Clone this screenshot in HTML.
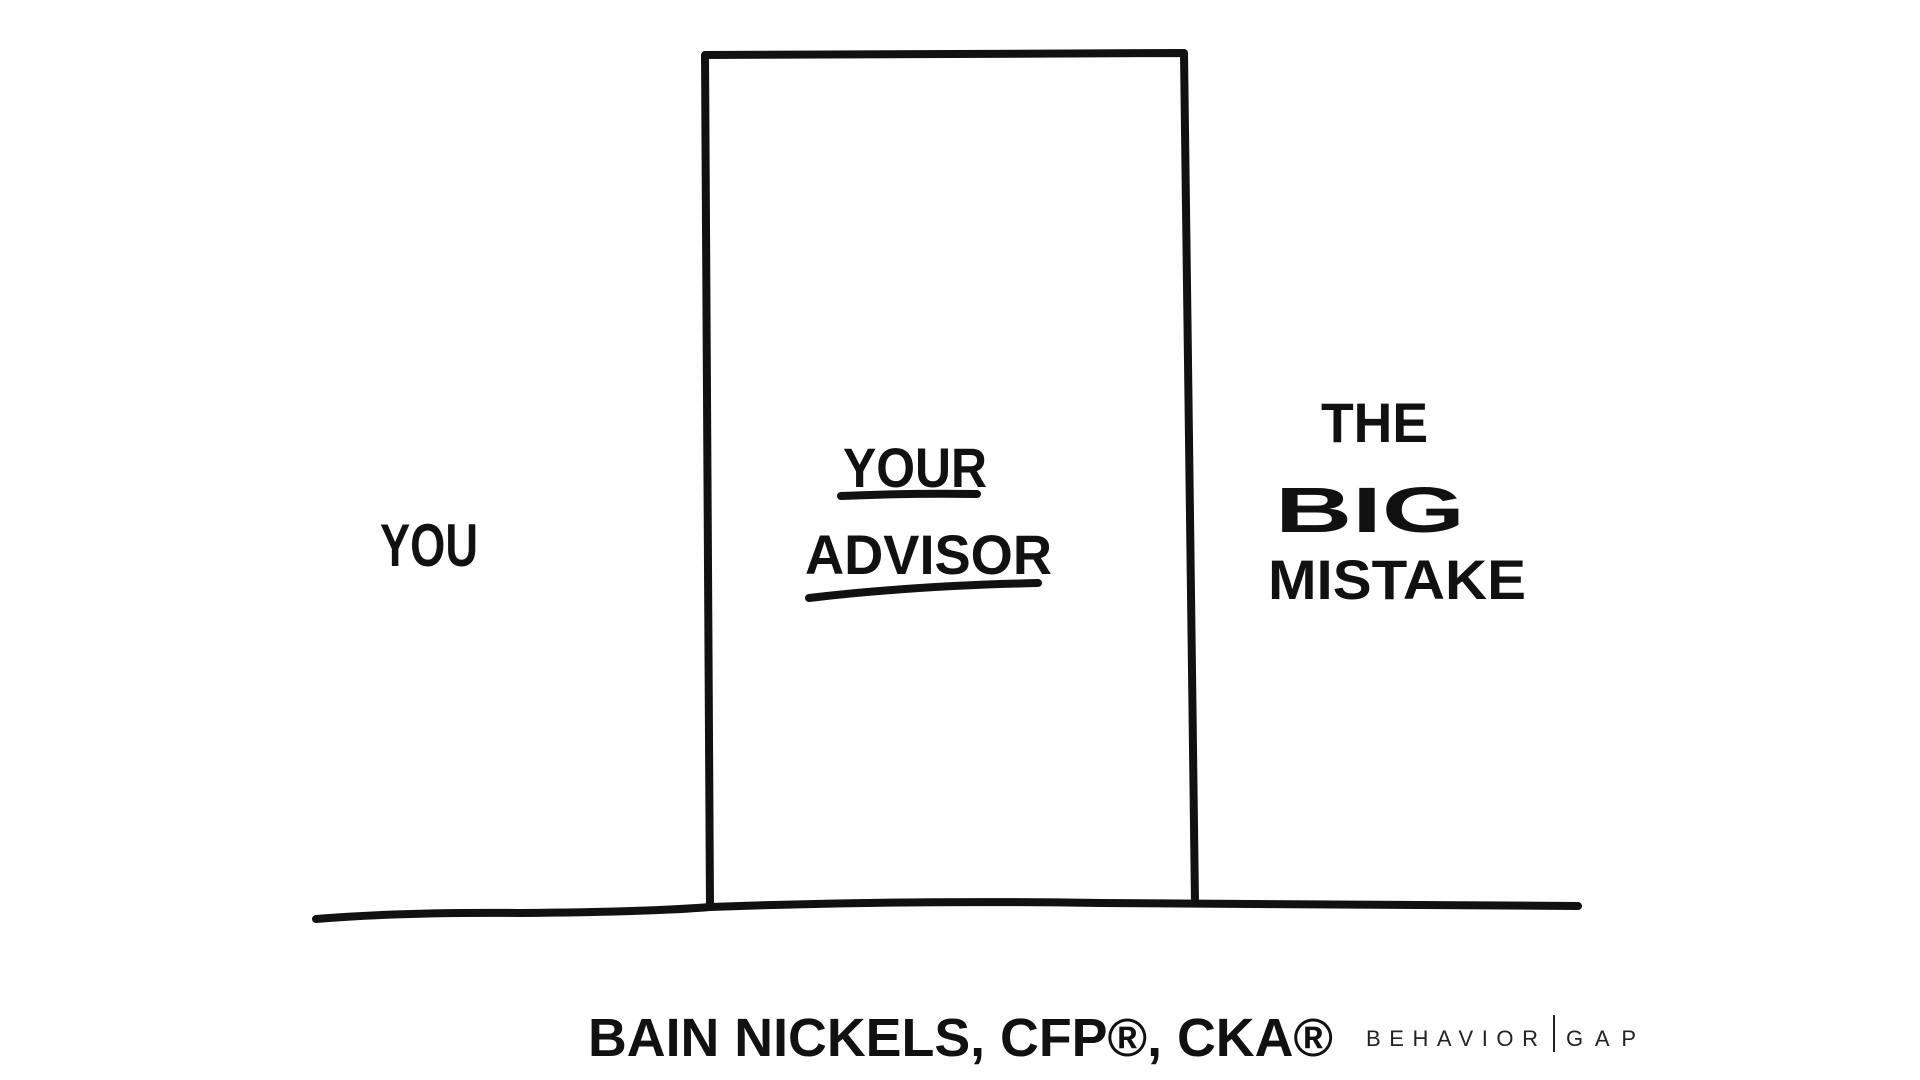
<!DOCTYPE html>
<html><head><style>
html,body{margin:0;padding:0;background:#fff;}
svg{display:block;}
.h{font-family:"Liberation Sans Narrow","Liberation Sans",sans-serif;font-weight:bold;fill:#111;}
</style></head><body>
<svg width="1920" height="1080" viewBox="0 0 1920 1080" xmlns="http://www.w3.org/2000/svg">
<rect width="1920" height="1080" fill="#fff"/>
<g fill="none" stroke="#111" stroke-width="8" stroke-linecap="round" stroke-linejoin="round">
<path d="M710,907 L705,55 L1184,53 L1195,903"/>
<path d="M316,919 Q400,912 520,913 Q650,912 710,907 Q900,900 1100,903 Q1300,905 1578,906"/>
<path d="M841,496 Q910,493 977,494"/>
<path d="M809,598 Q910,586 1038,583"/>
</g>
<text class="h" x="380" y="566" font-size="60" textLength="98" lengthAdjust="spacingAndGlyphs">YOU</text>
<text class="h" x="843" y="487" font-size="56" textLength="144" lengthAdjust="spacingAndGlyphs">YOUR</text>
<text class="h" x="805" y="574" font-size="56" textLength="247" lengthAdjust="spacingAndGlyphs">ADVISOR</text>
<text class="h" x="1321" y="442" font-size="56" textLength="107" lengthAdjust="spacingAndGlyphs">THE</text>
<text class="h" x="1275" y="532" font-size="64" textLength="190" lengthAdjust="spacingAndGlyphs">BIG</text>
<text class="h" x="1268" y="599" font-size="56" textLength="258" lengthAdjust="spacingAndGlyphs">MISTAKE</text>
<text x="588" y="1056" font-family="Liberation Sans, sans-serif" font-weight="bold" font-size="54" fill="#111" textLength="745" lengthAdjust="spacingAndGlyphs">BAIN NICKELS, CFP®, CKA®</text>
<text x="1366" y="1046" font-family="Liberation Sans, sans-serif" font-size="22" fill="#222" textLength="172" lengthAdjust="spacing">BEHAVIOR</text>
<line x1="1554" y1="1015" x2="1554" y2="1052" stroke="#222" stroke-width="2"/>
<text x="1566" y="1046" font-family="Liberation Sans, sans-serif" font-size="22" fill="#222" textLength="70" lengthAdjust="spacing">GAP</text>
</svg>
</body></html>
